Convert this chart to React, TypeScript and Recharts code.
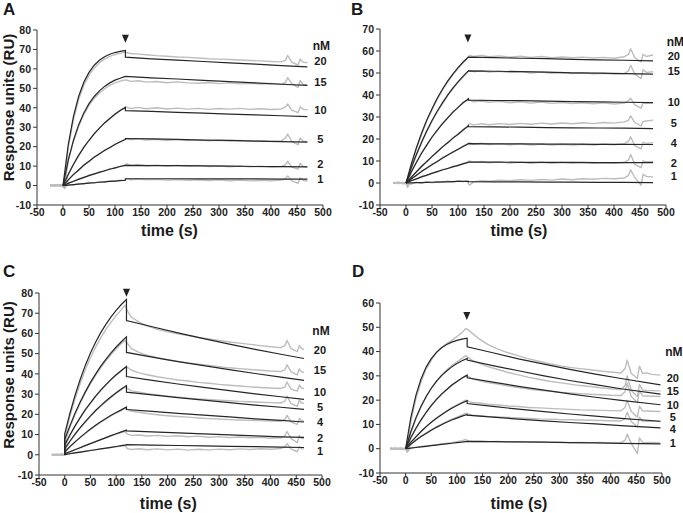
import React from "react";
import { LineChart, Line, XAxis, YAxis, ReferenceDot } from "recharts";

const xTicks = [-50, 0, 50, 100, 150, 200, 250, 300, 350, 400, 450, 500];

// ---- Panel A ----
const aYTicks = [-10, 0, 10, 20, 30, 40, 50, 60, 70, 80];
const aConc = ["20", "15", "10", "5", "2", "1"];
const aLabelY = [63.9, 53.1, 39.0, 24.1, 11.2, 3.6];
const aGrayTime = [-25, -15, -5, 0, 3, 10, 20, 30, 40, 50, 60, 70, 80, 90, 100, 110, 117, 122, 130, 145, 160, 180, 200, 220, 240, 260, 280, 300, 320, 340, 360, 380, 400, 420, 428, 432, 440, 452, 456, 462, 470];
const aGray20 = [0.3, -0.2, 0.4, -0.3, -1.2, 19.5, 33.8, 44.2, 51.5, 56.8, 60.5, 63.2, 65.0, 66.4, 67.3, 68.0, 68.6, 68.4, 67.9, 67.6, 67.3, 66.8, 66.5, 66.1, 65.9, 65.6, 65.2, 65.0, 64.8, 64.6, 64.3, 64.1, 63.8, 63.6, 64.5, 67.0, 63.5, 62.0, 65.0, 63.4, 63.2];
const aGray15 = [-0.2, 0.3, -0.1, 0.2, -1.0, 12.5, 22.6, 30.4, 36.5, 41.2, 44.8, 47.6, 49.8, 51.5, 52.8, 53.7, 54.2, 54.3, 53.6, 53.9, 53.2, 53.5, 52.9, 53.3, 52.8, 52.6, 53.0, 52.4, 52.8, 52.3, 52.6, 52.2, 52.5, 52.1, 53.0, 55.5, 52.4, 50.5, 54.0, 52.0, 51.8];
const aGray10 = [0.1, 0.4, -0.3, 0.1, -1.4, 5.5, 10.9, 15.3, 19.8, 23.1, 26.8, 29.4, 32.3, 34.4, 36.9, 38.7, 39.8, 40.3, 39.6, 40.2, 39.5, 40.0, 39.4, 39.8, 39.3, 39.7, 39.2, 39.6, 39.3, 39.7, 39.2, 39.5, 39.1, 39.4, 40.5, 42.0, 38.8, 37.5, 40.5, 39.2, 39.0];
const aGray5 = [0.4, -0.1, 0.2, -0.4, -1.6, 2.6, 5.8, 7.7, 10.6, 12.3, 14.8, 16.1, 18.3, 19.4, 21.4, 22.3, 23.5, 24.2, 23.5, 24.0, 23.4, 23.8, 23.2, 23.6, 23.1, 23.5, 23.0, 23.3, 22.9, 23.2, 22.8, 23.1, 22.7, 23.0, 24.5, 26.5, 22.6, 21.0, 24.5, 22.8, 22.6];
const aGray2 = [-0.1, 0.2, 0.5, 0.0, -0.9, 1.3, 2.0, 3.5, 4.0, 5.4, 5.8, 7.1, 7.4, 8.7, 8.9, 10.0, 10.3, 11.2, 10.4, 10.7, 10.2, 10.5, 10.0, 10.4, 9.9, 10.3, 9.8, 10.1, 9.7, 10.0, 9.6, 9.9, 9.5, 9.8, 10.8, 12.5, 9.5, 8.5, 11.5, 9.8, 9.6];
const aGray1 = [0.2, -0.3, 0.1, -0.2, -1.1, 0.5, 0.2, 1.1, 0.8, 1.6, 1.3, 2.0, 1.8, 2.4, 2.2, 2.8, 2.6, 3.6, 3.0, 3.4, 2.9, 3.2, 2.8, 3.1, 2.7, 3.0, 2.6, 2.9, 2.5, 2.8, 2.4, 2.7, 2.5, 2.8, 3.5, 5.0, 2.4, 1.2, 4.0, 2.6, 2.5];
const aFitTime = [0, 10, 20, 30, 40, 50, 60, 70, 80, 90, 100, 110, 120, 120, 170, 220, 270, 320, 370, 420, 470];
const aFit20 = [0, 20.8, 35.5, 45.8, 53.1, 58.2, 61.9, 64.4, 66.2, 67.5, 68.4, 69.0, 69.5, 66.0, 65.2, 64.5, 63.8, 63.1, 62.4, 61.7, 61.0];
const aFit15 = [0, 13.0, 23.2, 31.2, 37.3, 42.1, 45.8, 48.7, 51.0, 52.8, 54.2, 55.2, 56.1, 56.1, 55.4, 54.8, 54.1, 53.4, 52.8, 52.1, 51.5];
const aFit10 = [0, 5.7, 10.8, 15.5, 19.6, 23.3, 26.6, 29.5, 32.2, 34.5, 36.7, 38.6, 40.2, 38.5, 38.1, 37.6, 37.2, 36.7, 36.3, 35.9, 35.5];
const aFit5 = [0, 2.9, 5.6, 8.0, 10.4, 12.5, 14.5, 16.3, 18.0, 19.6, 21.1, 22.5, 23.7, 24.2, 24.0, 23.7, 23.4, 23.2, 22.9, 22.6, 22.3];
const aFit2 = [0, 1.1, 2.2, 3.2, 4.2, 5.1, 6.0, 6.8, 7.6, 8.4, 9.1, 9.8, 10.4, 10.4, 10.3, 10.2, 10.1, 10.0, 9.8, 9.7, 9.6];
const aFit1 = [0, 0.25, 0.5, 0.75, 1.0, 1.2, 1.45, 1.7, 1.9, 2.1, 2.3, 2.5, 2.7, 3.5, 3.5, 3.5, 3.4, 3.4, 3.4, 3.3, 3.3];

// ---- Panel B ----
const bYTicks = [-10, 0, 10, 20, 30, 40, 50, 60, 70];
const bConc = ["20", "15", "10", "5", "4", "2", "1"];
const bLabelY = [57.6, 50.7, 36.8, 27.5, 18.2, 9.1, 3.0];
const bGrayTime = [-25, -15, -5, 0, 3, 10, 20, 30, 40, 50, 60, 70, 80, 90, 100, 110, 117, 122, 130, 145, 160, 180, 200, 220, 240, 260, 280, 300, 320, 340, 360, 380, 400, 420, 428, 432, 440, 452, 456, 462, 475];
const bGray20 = [0.2, -0.3, 0.3, -0.2, -1.0, 8.0, 15.6, 22.0, 28.3, 33.2, 38.0, 42.1, 45.8, 49.2, 52.0, 54.8, 56.6, 58.0, 57.5, 58.0, 57.4, 57.8, 57.2, 57.6, 57.1, 57.5, 57.0, 57.3, 56.9, 57.2, 56.8, 57.1, 56.7, 57.4, 58.5, 61.0, 57.0, 55.0, 58.5, 57.5, 58.2];
const bGray15 = [-0.3, 0.2, -0.1, 0.3, -1.3, 6.5, 12.6, 18.2, 23.4, 28.0, 32.3, 36.0, 39.6, 42.8, 45.7, 48.3, 50.0, 51.2, 50.6, 51.0, 50.4, 50.8, 50.2, 50.6, 50.0, 50.4, 49.9, 50.2, 49.7, 50.1, 49.6, 49.9, 49.5, 49.8, 51.0, 53.5, 49.5, 47.5, 51.5, 50.3, 50.6];
const bGray10 = [0.1, 0.3, -0.4, 0.2, -1.8, 5.2, 9.2, 13.8, 17.0, 21.1, 23.7, 27.2, 29.3, 32.4, 34.1, 36.8, 37.4, 37.8, 36.9, 37.3, 36.7, 37.1, 36.4, 36.9, 36.3, 36.8, 36.2, 36.6, 36.1, 36.5, 36.0, 36.4, 35.9, 36.3, 37.5, 38.5, 35.5, 34.0, 36.5, 36.2, 36.4];
const bGray5 = [0.3, -0.2, 0.1, -0.3, -1.5, 2.8, 4.9, 7.8, 9.6, 12.3, 14.0, 16.6, 18.1, 20.6, 22.0, 24.4, 25.5, 27.0, 26.4, 26.9, 26.5, 27.0, 26.6, 27.1, 26.7, 27.2, 26.8, 27.3, 26.9, 27.4, 27.0, 27.5, 27.2, 27.8, 28.5, 30.5, 27.5, 26.0, 28.0, 28.2, 28.6];
const bGray4 = [-0.2, 0.4, 0.0, 0.1, -2.0, 2.0, 3.3, 5.5, 6.6, 8.6, 9.6, 11.6, 12.5, 14.3, 15.1, 16.9, 17.6, 18.3, 17.6, 18.1, 17.5, 17.9, 17.4, 17.8, 17.3, 17.7, 17.2, 17.6, 17.2, 17.6, 17.3, 17.7, 17.4, 17.9, 19.0, 21.0, 17.0, 15.5, 18.5, 18.0, 18.3];
const bGray2 = [0.1, -0.1, 0.3, -0.2, -1.2, 1.2, 1.7, 3.0, 3.4, 4.6, 5.0, 6.2, 6.5, 7.6, 7.8, 9.0, 9.3, 10.0, 9.4, 9.8, 9.2, 9.6, 9.1, 9.5, 9.0, 9.4, 8.9, 9.3, 8.9, 9.3, 8.9, 9.2, 8.9, 9.4, 10.5, 13.0, 8.5, 7.0, 10.0, 9.6, 9.8];
const bGray1 = [-0.1, 0.2, -0.3, 0.1, -0.8, -0.5, 0.4, -0.2, 0.6, 0.1, 0.7, 0.3, 0.9, 0.4, 1.0, 0.6, 0.9, -1.0, 0.5, 1.0, 0.8, 1.3, 1.0, 1.5, 1.2, 1.6, 1.3, 1.8, 1.5, 1.9, 1.7, 2.1, 1.9, 2.3, 3.5, 6.0, 2.5, -1.0, 4.0, 3.0, 2.8];
const bFitTime = [0, 10, 20, 30, 40, 50, 60, 70, 80, 90, 100, 110, 120, 120, 170, 220, 270, 320, 370, 420, 475];
const bFit20 = [0, 8.5, 16.0, 22.7, 28.6, 33.8, 38.5, 42.6, 46.3, 49.5, 52.4, 55.0, 57.2, 57.2, 57.0, 56.7, 56.5, 56.2, 56.0, 55.8, 55.5];
const bFit15 = [0, 6.8, 13.0, 18.6, 23.7, 28.4, 32.6, 36.4, 39.9, 43.1, 46.0, 48.6, 51.0, 51.0, 50.8, 50.6, 50.4, 50.1, 49.9, 49.7, 49.5];
const bFit10 = [0, 4.9, 9.4, 13.5, 17.3, 20.8, 24.0, 26.9, 29.6, 32.1, 34.4, 36.5, 38.3, 37.7, 37.5, 37.4, 37.2, 37.0, 36.9, 36.7, 36.5];
const bFit5 = [0, 2.6, 5.1, 7.5, 9.8, 12.0, 14.2, 16.3, 18.3, 20.3, 22.2, 24.1, 26.0, 25.6, 25.5, 25.4, 25.2, 25.1, 25.0, 24.9, 24.7];
const bFit4 = [0, 1.8, 3.5, 5.2, 6.8, 8.3, 9.8, 11.3, 12.7, 14.0, 15.3, 16.6, 17.9, 17.9, 17.8, 17.8, 17.7, 17.7, 17.6, 17.6, 17.5];
const bFit2 = [0, 1.0, 1.9, 2.8, 3.6, 4.4, 5.2, 5.9, 6.6, 7.3, 8.0, 8.7, 9.4, 9.5, 9.5, 9.4, 9.4, 9.4, 9.3, 9.3, 9.3];
const bFit1 = [0, 0.1, 0.15, 0.2, 0.3, 0.35, 0.4, 0.5, 0.55, 0.6, 0.7, 0.75, 0.8, 0.6, 0.5, 0.5, 0.4, 0.4, 0.3, 0.3, 0.2];

// ---- Panel C ----
const cYTicks = [-10, 0, 10, 20, 30, 40, 50, 60, 70, 80];
const cConc = ["20", "15", "10", "5", "4", "2", "1"];
const cLabelY = [51.9, 41.7, 31.2, 23.8, 16.0, 8.4, 2.0];
const cGrayTime = [-25, -15, -5, 0, 3, 10, 20, 30, 40, 50, 60, 70, 80, 90, 100, 110, 117, 122, 130, 145, 160, 180, 200, 220, 240, 260, 280, 300, 320, 340, 360, 380, 400, 420, 428, 432, 440, 452, 456, 460, 465];
const cGray20 = [0.2, -0.3, 0.4, -0.2, 11.5, 19.0, 27.5, 35.2, 42.0, 48.0, 53.2, 57.8, 62.0, 65.6, 68.8, 71.8, 74.0, 71.0, 68.0, 65.5, 63.8, 62.0, 60.8, 59.8, 59.0, 58.0, 57.3, 56.5, 55.8, 55.2, 54.6, 54.0, 53.4, 53.0, 54.0, 56.5, 52.5, 51.0, 54.0, 52.6, 52.0];
const cGray15 = [-0.2, 0.3, -0.1, 0.2, 8.0, 13.5, 19.8, 25.5, 30.6, 35.2, 39.3, 43.0, 46.5, 49.6, 52.4, 55.0, 56.5, 55.0, 52.5, 50.5, 49.3, 48.0, 47.0, 46.2, 45.4, 44.8, 44.2, 43.6, 43.0, 42.6, 42.2, 41.8, 41.4, 41.2, 42.0, 44.5, 41.0, 39.5, 42.5, 41.0, 40.8];
const cGray10 = [0.3, -0.1, 0.2, -0.3, 5.2, 9.5, 14.0, 18.2, 22.0, 25.5, 28.8, 31.8, 34.5, 37.0, 39.4, 41.4, 43.0, 43.2, 41.8, 40.5, 39.6, 38.6, 37.8, 37.0, 36.5, 35.8, 35.4, 34.8, 34.4, 34.0, 33.6, 33.3, 33.0, 32.8, 33.5, 36.0, 32.5, 31.5, 34.5, 33.0, 32.8];
const cGray5 = [-0.1, 0.2, -0.2, 0.1, 3.4, 6.5, 10.0, 13.2, 16.1, 19.0, 21.6, 24.0, 26.3, 28.4, 30.4, 32.2, 33.4, 32.8, 31.6, 31.0, 30.2, 29.6, 29.0, 28.5, 28.0, 27.6, 27.3, 27.0, 26.7, 26.4, 26.2, 26.0, 25.8, 25.6, 26.5, 29.0, 25.3, 24.0, 27.0, 25.6, 25.4];
const cGray4 = [0.2, 0.0, 0.3, -0.2, 1.8, 3.8, 6.2, 8.4, 10.5, 12.5, 14.4, 16.1, 17.7, 19.3, 20.7, 22.0, 23.0, 22.5, 21.5, 21.0, 20.4, 19.8, 19.3, 18.9, 18.6, 18.2, 17.9, 17.7, 17.4, 17.2, 17.0, 16.9, 16.7, 16.6, 17.5, 19.5, 16.2, 15.0, 18.0, 16.8, 16.6];
const cGray2 = [-0.2, 0.1, -0.1, 0.2, 0.8, 1.5, 2.5, 3.6, 4.6, 5.6, 6.5, 7.5, 8.4, 9.4, 10.2, 11.0, 11.5, 10.2, 9.6, 9.8, 9.3, 9.6, 9.1, 9.4, 8.9, 9.2, 8.7, 9.0, 8.5, 8.8, 8.4, 8.6, 8.2, 8.4, 9.5, 11.5, 8.0, 6.0, 9.5, 8.2, 8.0];
const cGray1 = [0.1, -0.2, 0.2, -0.1, 0.3, 0.6, 1.0, 1.4, 1.8, 2.2, 2.5, 2.9, 3.2, 3.6, 3.9, 4.3, 4.6, 3.0, 2.6, 3.0, 2.5, 2.9, 2.4, 2.8, 2.3, 2.7, 2.4, 2.8, 2.5, 2.9, 2.6, 3.0, 2.7, 3.1, 4.0, 5.5, 2.8, 1.5, 4.0, 3.0, 2.9];
const cFitTime = [0, 0, 10, 20, 30, 40, 50, 60, 70, 80, 90, 100, 110, 120, 120, 170, 220, 270, 320, 370, 420, 465];
const cFit20 = [0, 10.3, 20.4, 29.3, 37.2, 44.2, 50.3, 55.6, 60.4, 64.5, 68.2, 71.4, 74.3, 76.8, 66.4, 63.3, 60.3, 57.4, 54.7, 52.1, 49.7, 47.6];
const cFit15 = [0, 7.6, 14.3, 20.5, 26.1, 31.1, 35.8, 39.9, 43.8, 47.2, 50.4, 53.3, 55.9, 58.3, 50.6, 48.3, 46.1, 44.1, 42.1, 40.2, 38.4, 36.8];
const cFit10 = [0, 4.9, 9.8, 14.3, 18.4, 22.3, 25.7, 29.0, 32.0, 34.7, 37.3, 39.6, 41.7, 43.7, 38.7, 36.8, 35.0, 33.3, 31.7, 30.1, 28.7, 27.4];
const cFit5 = [0, 3.0, 6.7, 10.2, 13.4, 16.4, 19.2, 21.9, 24.3, 26.6, 28.7, 30.7, 32.5, 34.2, 31.0, 29.6, 28.3, 27.0, 25.8, 24.6, 23.5, 22.5];
const cFit4 = [0, 1.5, 4.0, 6.4, 8.6, 10.7, 12.7, 14.6, 16.3, 17.9, 19.5, 20.9, 22.2, 23.6, 22.4, 21.5, 20.5, 19.6, 18.7, 17.8, 17.0, 16.2];
const cFit2 = [0, 0.5, 1.5, 2.5, 3.5, 4.5, 5.5, 6.5, 7.5, 8.5, 9.5, 10.4, 11.3, 12.2, 11.8, 11.3, 10.8, 10.3, 9.8, 9.3, 8.9, 8.6];
const cFit1 = [0, 0.1, 0.5, 0.9, 1.3, 1.7, 2.1, 2.5, 2.9, 3.3, 3.7, 4.1, 4.5, 4.9, 5.0, 4.8, 4.6, 4.4, 4.2, 4.0, 3.8, 3.6];

// ---- Panel D ----
const dYTicks = [-10, 0, 10, 20, 30, 40, 50, 60];
const dConc = ["20", "15", "10", "5", "4", "1"];
const dLabelY = [29.3, 23.9, 18.2, 13.0, 8.2, 2.5];
const dGrayTime = [-30, -20, -10, 0, 3, 10, 20, 30, 40, 50, 60, 70, 80, 90, 100, 110, 117, 122, 130, 145, 160, 180, 200, 220, 240, 260, 280, 300, 320, 340, 360, 380, 400, 420, 428, 432, 440, 452, 456, 462, 470, 480, 497];
const dGray20 = [0.2, -0.3, 0.3, -0.2, 1.0, 11.0, 20.5, 27.5, 32.8, 36.5, 39.5, 41.6, 43.3, 44.6, 46.2, 47.8, 49.4, 49.0, 47.5, 45.0, 43.0, 41.0, 39.5, 38.2, 37.0, 36.0, 35.0, 34.2, 33.5, 33.0, 32.5, 32.0, 31.6, 31.2, 33.0, 36.5, 31.0, 29.0, 34.0, 31.0, 31.2, 30.6, 30.3];
const dGray15 = [-0.2, 0.3, -0.1, 0.2, 0.5, 6.5, 12.2, 17.2, 21.2, 24.8, 27.8, 30.3, 32.4, 34.2, 35.8, 37.2, 38.3, 37.6, 36.4, 35.0, 33.8, 32.6, 31.4, 30.4, 29.4, 28.6, 27.8, 27.2, 26.6, 26.0, 25.6, 25.1, 24.7, 24.4, 26.0, 30.0, 24.0, 21.5, 26.5, 24.2, 24.0, 23.9, 23.8];
const dGray10 = [0.1, -0.2, 0.2, 0.0, -0.5, 4.3, 8.2, 11.6, 14.8, 17.6, 20.0, 22.3, 24.2, 26.0, 27.6, 29.0, 30.0, 29.8, 28.7, 28.0, 27.2, 26.6, 25.8, 25.2, 24.6, 24.1, 23.7, 23.3, 23.0, 22.7, 22.4, 22.2, 22.0, 21.9, 23.5, 27.0, 21.5, 19.0, 24.0, 21.8, 21.7, 21.6, 21.5];
const dGray5 = [0.3, -0.1, 0.1, -0.3, -1.0, 2.5, 4.8, 7.0, 9.0, 10.9, 12.5, 14.1, 15.5, 16.9, 18.1, 19.2, 20.0, 19.6, 19.0, 18.8, 18.3, 18.0, 17.6, 17.4, 17.0, 16.8, 16.6, 16.4, 16.2, 16.0, 15.9, 15.8, 15.7, 15.6, 17.0, 20.0, 15.3, 13.0, 17.5, 15.6, 15.5, 15.4, 15.3];
const dGray4 = [-0.1, 0.2, -0.2, 0.1, -0.8, 1.8, 3.6, 5.1, 6.5, 7.8, 9.0, 10.1, 11.2, 12.2, 13.0, 13.9, 14.6, 14.3, 13.8, 13.6, 13.3, 13.1, 12.9, 12.7, 12.5, 12.3, 12.2, 12.0, 11.9, 11.8, 11.7, 11.6, 11.5, 11.4, 12.5, 15.0, 11.2, 9.0, 13.0, 11.4, 11.3, 11.3, 11.2];
const dGray1 = [0.2, 0.0, -0.2, 0.1, -1.5, 0.4, 0.6, 0.9, 1.2, 1.4, 1.7, 2.0, 2.3, 2.5, 2.9, 3.3, 3.8, 3.2, 3.0, 3.1, 2.9, 3.0, 2.8, 2.9, 2.7, 2.8, 2.6, 2.7, 2.5, 2.6, 2.5, 2.6, 2.4, 2.5, 3.5, 6.0, 2.2, -2.0, 4.5, 2.6, 2.5, 2.6, 2.4];
const dFitTime = [0, 10, 20, 30, 40, 50, 60, 70, 80, 90, 100, 110, 120, 120, 170, 220, 270, 320, 370, 420, 497];
const dFit20 = [0, 12.7, 22.0, 28.7, 33.6, 37.1, 39.7, 41.6, 42.9, 43.9, 44.6, 45.1, 45.5, 42.0, 39.5, 37.0, 34.8, 32.7, 30.7, 28.9, 26.3];
const dFit15 = [0, 6.9, 12.7, 17.5, 21.5, 24.9, 27.7, 30.1, 32.0, 33.7, 35.1, 36.2, 37.2, 36.5, 34.2, 32.1, 30.0, 28.1, 26.4, 24.7, 22.5];
const dFit10 = [0, 4.5, 8.4, 11.9, 15.0, 17.8, 20.3, 22.5, 24.4, 26.2, 27.7, 29.1, 30.3, 29.2, 27.4, 25.7, 24.1, 22.6, 21.2, 19.9, 18.1];
const dFit5 = [0, 2.6, 4.9, 7.1, 9.1, 10.9, 12.5, 14.0, 15.4, 16.7, 17.8, 18.8, 19.8, 18.6, 17.4, 16.3, 15.3, 14.3, 13.4, 12.5, 11.3];
const dFit4 = [0, 1.8, 3.5, 5.0, 6.3, 7.6, 8.8, 9.9, 10.9, 11.8, 12.6, 13.4, 14.1, 13.8, 13.0, 12.2, 11.5, 10.8, 10.2, 9.5, 8.6];
const dFit1 = [0, 0.25, 0.5, 0.75, 1.0, 1.25, 1.5, 1.75, 2.0, 2.25, 2.5, 2.75, 3.0, 3.0, 2.9, 2.8, 2.7, 2.5, 2.4, 2.2, 2.0];

const GRAY = "#bdbdbd";
const DARK = "#262626";
const tickStyle = { fontSize: 10.5, fontWeight: 700, fill: "#222" };
const axisStyle = { stroke: "#333", strokeWidth: 1 };

const pts = (ts: number[], vs: number[]) => ts.map((t, i) => ({ t, v: vs[i] }));

type PanelProps = {
  left: number;
  top: number;
  width: number;
  height: number;
  margin: { top: number; right: number; bottom: number; left: number };
  yWidth: number;
  yDomain: [number, number];
  yTicks: number[];
  grayTime: number[];
  grays: number[][];
  fitTime: number[];
  fits: number[][];
  concs: string[];
  labelY: number[];
  labelX: number;
  nmX: number;
  nmY: number;
  arrowX: number;
  arrowY: number;
};

const Panel: React.FC<PanelProps> = (p) => (
  <div style={{ position: "absolute", left: p.left, top: p.top }}>
    <LineChart width={p.width} height={p.height} margin={p.margin}>
      <XAxis
        type="number"
        dataKey="t"
        domain={[-50, 500]}
        ticks={xTicks}
        interval={0}
        allowDataOverflow
        height={30}
        tickSize={3}
        tickMargin={1}
        tick={tickStyle}
        axisLine={axisStyle}
        tickLine={axisStyle}
      />
      <YAxis
        type="number"
        domain={p.yDomain}
        ticks={p.yTicks}
        interval={0}
        allowDataOverflow
        width={p.yWidth}
        tickSize={4}
        tickMargin={2}
        tick={tickStyle}
        axisLine={axisStyle}
        tickLine={axisStyle}
      />
      {p.grays.map((g, i) => (
        <Line
          key={"g" + i}
          data={pts(p.grayTime, g)}
          dataKey="v"
          stroke={GRAY}
          strokeWidth={1.4}
          strokeLinejoin="round"
          dot={false}
          activeDot={false}
          isAnimationActive={false}
        />
      ))}
      {p.fits.map((f, i) => (
        <Line
          key={"f" + i}
          data={pts(p.fitTime, f)}
          dataKey="v"
          stroke={DARK}
          strokeWidth={1.2}
          dot={false}
          activeDot={false}
          isAnimationActive={false}
        />
      ))}
      {p.concs.map((c, i) => (
        <ReferenceDot
          key={"l" + c}
          x={p.labelX}
          y={p.labelY[i]}
          r={1}
          ifOverflow="visible"
          shape={(s: any) => (
            <text x={s.cx} y={s.cy} textAnchor="middle" dominantBaseline="central" fontSize={11} fontWeight={700} fill="#1a1a1a">
              {c}
            </text>
          )}
        />
      ))}
      <ReferenceDot
        x={p.nmX}
        y={p.nmY}
        r={1}
        ifOverflow="visible"
        shape={(s: any) => (
          <text x={s.cx} y={s.cy} textAnchor="middle" dominantBaseline="central" fontSize={12} fontWeight={700} fill="#1a1a1a">
            nM
          </text>
        )}
      />
      <ReferenceDot
        x={p.arrowX}
        y={p.arrowY}
        r={1}
        ifOverflow="visible"
        shape={(s: any) => (
          <path d={`M${s.cx - 3.5},${s.cy - 8} L${s.cx + 3.5},${s.cy - 8} L${s.cx},${s.cy} Z`} fill="#222" />
        )}
      />
    </LineChart>
  </div>
);

export default function App() {
  const titleStyle = { fontSize: 16, fontWeight: 700, fill: "#1a1a1a" } as const;
  const yTitleStyle = { fontSize: 15, fontWeight: 700, fill: "#1a1a1a" } as const;
  return (
    <div
      style={{
        position: "absolute",
        left: 0,
        top: 0,
        width: 683,
        height: 513,
        background: "#fff",
        fontFamily: "'Liberation Sans', Arial, sans-serif",
        overflow: "hidden",
      }}
    >
      <Panel
        left={0}
        top={0}
        width={341}
        height={250}
        margin={{ top: 30, right: 18, bottom: 15, left: 0 }}
        yWidth={37}
        yDomain={[-10, 80]}
        yTicks={aYTicks}
        grayTime={aGrayTime}
        grays={[aGray20, aGray15, aGray10, aGray5, aGray2, aGray1]}
        fitTime={aFitTime}
        fits={[aFit20, aFit15, aFit10, aFit5, aFit2, aFit1]}
        concs={aConc}
        labelY={aLabelY}
        labelX={495}
        nmX={497}
        nmY={72}
        arrowX={120}
        arrowY={73.4}
      />
      <Panel
        left={340}
        top={0}
        width={343}
        height={250}
        margin={{ top: 29, right: 17, bottom: 15, left: 0 }}
        yWidth={40}
        yDomain={[-10, 70]}
        yTicks={bYTicks}
        grayTime={bGrayTime}
        grays={[bGray20, bGray15, bGray10, bGray5, bGray4, bGray2, bGray1]}
        fitTime={bFitTime}
        fits={[bFit20, bFit15, bFit10, bFit5, bFit4, bFit2, bFit1]}
        concs={bConc}
        labelY={bLabelY}
        labelX={515}
        nmX={518}
        nmY={63.9}
        arrowX={119}
        arrowY={63.9}
      />
      <Panel
        left={0}
        top={250}
        width={341}
        height={263}
        margin={{ top: 43, right: 19, bottom: 8, left: 0 }}
        yWidth={39}
        yDomain={[-10, 80]}
        yTicks={cYTicks}
        grayTime={cGrayTime}
        grays={[cGray20, cGray15, cGray10, cGray5, cGray4, cGray2, cGray1]}
        fitTime={cFitTime}
        fits={[cFit20, cFit15, cFit10, cFit5, cFit4, cFit2, cFit1]}
        concs={cConc}
        labelY={cLabelY}
        labelX={496}
        nmX={498}
        nmY={61.3}
        arrowX={120}
        arrowY={78.2}
      />
      <Panel
        left={340}
        top={250}
        width={343}
        height={263}
        margin={{ top: 53, right: 21, bottom: 10, left: 0 }}
        yWidth={40}
        yDomain={[-10, 60]}
        yTicks={dYTicks}
        grayTime={dGrayTime}
        grays={[dGray20, dGray15, dGray10, dGray5, dGray4, dGray1]}
        fitTime={dFitTime}
        fits={[dFit20, dFit15, dFit10, dFit5, dFit4, dFit1]}
        concs={dConc}
        labelY={dLabelY}
        labelX={521}
        nmX={523}
        nmY={40}
        arrowX={119.3}
        arrowY={53}
      />
      <svg width={683} height={513} style={{ position: "absolute", left: 0, top: 0, pointerEvents: "none" }}>
        <text x={3} y={15} fontSize={17} fontWeight={700} fill="#1a1a1a">A</text>
        <text x={351} y={15} fontSize={17} fontWeight={700} fill="#1a1a1a">B</text>
        <text x={3} y={277} fontSize={17} fontWeight={700} fill="#1a1a1a">C</text>
        <text x={352} y={277} fontSize={17} fontWeight={700} fill="#1a1a1a">D</text>
        <text transform="translate(13.5,107.5) rotate(-90)" textAnchor="middle" {...yTitleStyle}>
          Response units (RU)
        </text>
        <text transform="translate(13.5,375) rotate(-90)" textAnchor="middle" {...yTitleStyle}>
          Response units (RU)
        </text>
        <text x={169.5} y={236} textAnchor="middle" {...titleStyle}>time (s)</text>
        <text x={519} y={236} textAnchor="middle" {...titleStyle}>time (s)</text>
        <text x={168.3} y={509} textAnchor="middle" {...titleStyle}>time (s)</text>
        <text x={519} y={509} textAnchor="middle" {...titleStyle}>time (s)</text>
      </svg>
    </div>
  );
}
